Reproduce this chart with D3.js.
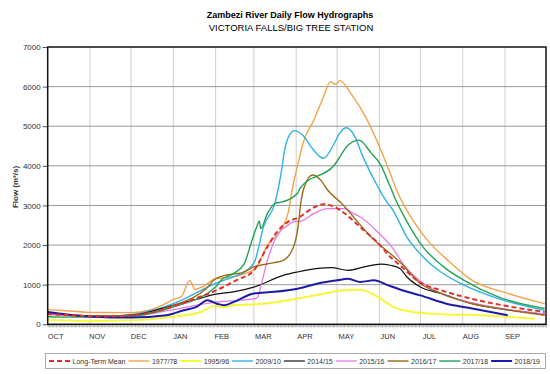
<!DOCTYPE html>
<html>
<head>
<meta charset="utf-8">
<script src="https://cdn.jsdelivr.net/npm/d3@7"></script>
<style>
  body { margin: 0; background: #fff; }
  svg { font-family: 'Liberation Sans', Arial, sans-serif; }
</style>
</head>
<body>
<svg id="chart" width="550" height="374"></svg>
<script>
// month labels along the hydrological year (Oct - Sep)
const months = ['OCT', 'NOV', 'DEC', 'JAN', 'FEB', 'MAR', 'APR', 'MAY', 'JUN', 'JUL', 'AUG', 'SEP'];
const yTicks = [0, 1000, 2000, 3000, 4000, 5000, 6000, 7000];

const meanFlow = [['Oct 1', 260], ['Oct 15', 235], ['Nov 1', 205], ['Nov 15', 200], ['Dec 1', 225], ['Dec 20', 330], ['Jan 1', 450], ['Jan 15', 620],
    ['Feb 1', 850], ['Feb 16', 1110], ['Mar 1', 1360], ['Mar 10', 1900], ['Mar 17', 2290], ['Mar 24', 2540], ['Apr 4', 2720], ['Apr 14', 2950],
    ['Apr 21', 3030], ['Apr 28', 2980], ['May 8', 2760], ['May 18', 2450], ['May 31', 2050], ['Jun 9', 1700], ['Jun 16', 1490], ['Jul 1', 1050],
    ['Jul 16', 860], ['Aug 8', 640], ['Sep 6', 440], ['Sep 30', 310]];

const flow1977 = [['Oct 1', 370], ['Oct 20', 330], ['Nov 1', 300], ['Dec 1', 295], ['Dec 15', 360], ['Dec 26', 520], ['Jan 1', 630], ['Jan 7', 700],
    ['Jan 13', 1110], ['Jan 17', 880], ['Jan 23', 960], ['Feb 1', 1150], ['Feb 14', 1200], ['Feb 24', 1300], ['Mar 2', 1400], ['Mar 11', 2000],
    ['Mar 22', 2450], ['Mar 26', 2800], ['Mar 29', 3390], ['Apr 2', 4000], ['Apr 6', 4570], ['Apr 14', 5160], ['Apr 21', 5740], ['Apr 26', 6120],
    ['Apr 30', 6060], ['May 3', 6150], ['May 11', 5830], ['May 23', 5160], ['Jun 2', 4400], ['Jun 9', 3800], ['Jun 14', 3350], ['Jun 26', 2600],
    ['Jul 8', 2050], ['Jul 21', 1620], ['Aug 8', 1110], ['Sep 3', 780], ['Sep 30', 520]];

const flow1995 = [['Oct 1', 110], ['Oct 15', 95], ['Nov 1', 80], ['Dec 1', 100], ['Dec 15', 130], ['Jan 1', 190], ['Jan 21', 310], ['Feb 1', 470],
    ['Feb 6', 430], ['Feb 14', 480], ['Mar 8', 520], ['Apr 2', 650], ['Apr 24', 790], ['May 6', 860], ['May 18', 870], ['May 26', 780],
    ['Jun 3', 620], ['Jun 11', 440], ['Jun 26', 310], ['Jul 20', 250], ['Aug 14', 230], ['Sep 23', 140]];

const flow2009 = [['Oct 1', 280], ['Oct 15', 240], ['Nov 1', 210], ['Nov 15', 205], ['Dec 1', 240], ['Dec 20', 380], ['Jan 1', 520], ['Feb 1', 1030],
    ['Feb 14', 1200], ['Feb 24', 1360], ['Mar 2', 1620], ['Mar 8', 2450], ['Mar 17', 3130], ['Mar 21', 3820], ['Mar 24', 4470], ['Mar 29', 4860],
    ['Mar 31', 4890], ['Apr 7', 4730], ['Apr 12', 4480], ['Apr 21', 4190], ['Apr 29', 4570], ['May 3', 4830], ['May 8', 4960], ['May 13', 4800],
    ['May 20', 4220], ['May 31', 3460], ['Jun 7', 3060], ['Jun 10', 2930], ['Jun 21', 2210], ['Jul 3', 1700], ['Jul 16', 1320], ['Aug 2', 990],
    ['Aug 27', 650], ['Sep 30', 350]];

const flow2014 = [['Oct 1', 270], ['Oct 15', 235], ['Nov 1', 200], ['Dec 1', 230], ['Jan 1', 480], ['Jan 20', 650], ['Feb 1', 760], ['Feb 14', 820],
    ['Mar 1', 940], ['Mar 23', 1240], ['Apr 2', 1320], ['Apr 17', 1410], ['Apr 27', 1430], ['May 9', 1360], ['May 21', 1450], ['Jun 2', 1520],
    ['Jun 9', 1490], ['Jun 16', 1410], ['Jun 21', 1200], ['Jul 1', 940], ['Jul 16', 780], ['Aug 8', 520], ['Sep 6', 350], ['Sep 30', 250]];

const flow2015 = [['Oct 1', 250], ['Oct 15', 215], ['Nov 1', 190], ['Dec 1', 210], ['Jan 1', 370], ['Feb 1', 560], ['Mar 1', 640], ['Mar 4', 700],
    ['Mar 6', 940], ['Mar 11', 1620], ['Mar 21', 2380], ['Mar 23', 2430], ['Mar 31', 2590], ['Apr 4', 2600], ['Apr 14', 2800], ['Apr 24', 2920],
    ['May 6', 2920], ['May 13', 2800], ['May 18', 2710], ['Jun 2', 2250], ['Jun 9', 2000], ['Jun 20', 1450], ['Jun 30', 1110], ['Jul 16', 780],
    ['Aug 8', 540], ['Sep 6', 360], ['Sep 30', 260]];

const flow2016 = [['Oct 1', 290], ['Oct 15', 250], ['Nov 1', 210], ['Dec 1', 220], ['Jan 1', 470], ['Jan 25', 900], ['Feb 1', 1150], ['Feb 10', 1250],
    ['Feb 20', 1300], ['Mar 1', 1450], ['Mar 15', 1550], ['Mar 23', 1620], ['Mar 31', 2050], ['Apr 3', 2630], ['Apr 4', 2960], ['Apr 7', 3470],
    ['Apr 13', 3770], ['Apr 19', 3640], ['Apr 24', 3390], ['May 4', 3060], ['May 26', 2200], ['Jun 16', 1570], ['Jul 1', 1030], ['Jul 16', 780],
    ['Aug 8', 520], ['Sep 6', 350], ['Sep 30', 230]];

const flow2017 = [['Oct 1', 190], ['Oct 15', 180], ['Nov 1', 180], ['Dec 1', 200], ['Jan 1', 440], ['Feb 1', 940], ['Feb 5', 1110], ['Feb 14', 1280],
    ['Feb 22', 1530], ['Feb 27', 2050], ['Mar 3', 2450], ['Mar 5', 2600], ['Mar 6', 2420], ['Mar 11', 2800], ['Mar 17', 3060], ['Mar 22', 3090],
    ['Apr 2', 3310], ['Apr 4', 3440], ['Apr 29', 4020], ['May 9', 4520], ['May 17', 4650], ['May 26', 4320], ['Jun 2', 4020], ['Jun 8', 3550],
    ['Jun 14', 3060], ['Jun 21', 2600], ['Jul 3', 1950], ['Jul 18', 1450], ['Aug 2', 1110], ['Aug 27', 690], ['Sep 30', 400]];

const flow2018 = [['Oct 1', 310], ['Oct 15', 250], ['Nov 1', 200], ['Dec 1', 170], ['Dec 27', 230], ['Jan 1', 270], ['Jan 8', 350], ['Jan 18', 440],
    ['Jan 26', 610], ['Feb 2', 520], ['Feb 7', 480], ['Feb 14', 560], ['Mar 1', 780], ['Mar 16', 820], ['Apr 2', 900], ['Apr 17', 1030],
    ['May 1', 1110], ['May 9', 1150], ['May 18', 1070], ['May 28', 1110], ['Jun 7', 990], ['Jun 16', 880], ['Jul 1', 730], ['Jul 20', 520],
    ['Aug 8', 400], ['Sep 3', 230]];

const seriesNames = ['1977/78', '1995/96', '2009/10', '2014/15', '2015/16', '2016/17', '2017/18', '2018/19'];
const seriesFlows = [flow1977, flow1995, flow2009, flow2014, flow2015, flow2016, flow2017, flow2018];
const seriesColors = ['#f4a349', '#f7f739', '#31b2e3', '#111111', '#e47ae4', '#9a6918', '#22a256', '#1b1ba8'];
const seriesWidths = [1.4, 2, 1.4, 1.2, 1.3, 1.4, 1.4, 2];

const svg = d3.select('#chart'),
    margin = {top: 47, right: 4, bottom: 50, left: 47.7},
    width = +svg.attr('width') - margin.left - margin.right,
    height = 324.3 - margin.top;

// oct-dec fall in the first calendar year, jan-sep in the next
const parseDay = (s) => {
    const d = d3.timeParse('%b %d %Y')(s + ' 2001');
    return d.getMonth() >= 9 ? d3.timeYear.offset(d, -1) : d;
};

const x = d3.scaleTime()
    .domain([new Date(2000, 9, 1), new Date(2001, 9, 1)])
    .range([margin.left, margin.left + width]);
const y = d3.scaleLinear().domain([0, 7000]).range([margin.top + height, margin.top]);
const monthBand = d3.scaleBand().domain(months).range([margin.left, margin.left + width]);

// title
svg.append('text')
    .attr('x', 290).attr('y', 17.5)
    .attr('text-anchor', 'middle')
    .style('font-size', '9px').style('font-weight', 'bold')
    .text('Zambezi River Daily Flow Hydrographs');
svg.append('text')
    .attr('x', 291).attr('y', 30.5)
    .attr('text-anchor', 'middle')
    .style('font-size', '9.5px')
    .text('VICTORIA FALLS/BIG TREE STATION');

// grid
svg.append('g')
    .selectAll('line')
    .data(d3.timeMonth.range(new Date(2000, 10, 1), new Date(2001, 9, 1)))
    .enter().append('line')
    .attr('x1', (d) => x(d)).attr('x2', (d) => x(d))
    .attr('y1', margin.top).attr('y2', margin.top + height)
    .attr('stroke', '#cfcfcf').attr('stroke-width', 1);

svg.append('g')
    .selectAll('line')
    .data(yTicks.slice(1, -1))
    .enter().append('line')
    .attr('x1', margin.left).attr('x2', margin.left + width)
    .attr('y1', (d) => y(d)).attr('y2', (d) => y(d))
    .attr('stroke', '#9a9a9a').attr('stroke-width', 1);

// y axis
const yAxis = svg.append('g')
    .attr('transform', 'translate(' + margin.left + ',0)')
    .call(d3.axisLeft(y).tickValues(yTicks).tickFormat(d3.format('d')).tickSize(5).tickPadding(2));
yAxis.select('.domain').remove();
yAxis.selectAll('text').style('font-size', '8px').attr('fill', '#333');
yAxis.selectAll('line').attr('stroke', '#555');

svg.append('text')
    .attr('transform', 'translate(17.5,187)rotate(-90)')
    .attr('text-anchor', 'middle')
    .style('font-size', '8px').style('font-weight', 'bold')
    .attr('fill', '#333')
    .text('Flow (m³/s)');

// daily ticks under the plot
const xAxis = svg.append('g')
    .attr('transform', 'translate(0,' + (margin.top + height) + ')')
    .call(d3.axisBottom(x).ticks(d3.timeDay.every(1)).tickSize(3).tickFormat(''));
xAxis.select('.domain').remove();
xAxis.selectAll('line').attr('stroke', '#777').attr('stroke-width', 0.6);

svg.append('g')
    .selectAll('text')
    .data(months)
    .enter().append('text')
    .attr('x', (d) => monthBand(d) + 8)
    .attr('y', 338.5)
    .attr('text-anchor', 'middle')
    .style('font-size', '7.5px')
    .attr('fill', '#333')
    .text((d) => d);

// hydrographs
const line = d3.line()
    .x((d) => x(parseDay(d[0])))
    .y((d) => y(d[1]))
    .curve(d3.curveMonotoneX);

const plot = svg.append('g');
seriesFlows.forEach((flow, i) => {
    plot.append('path')
        .datum(flow)
        .attr('fill', 'none')
        .attr('stroke', seriesColors[i])
        .attr('stroke-width', seriesWidths[i])
        .attr('stroke-linejoin', 'round')
        .attr('d', line);
});
plot.append('path')
    .datum(meanFlow)
    .attr('fill', 'none')
    .attr('stroke', '#e2302b')
    .attr('stroke-width', 2)
    .attr('stroke-dasharray', '5,3')
    .attr('d', line);

// frame
svg.append('rect')
    .attr('x', margin.left).attr('y', margin.top)
    .attr('width', width).attr('height', height)
    .attr('fill', 'none')
    .attr('stroke', '#111').attr('stroke-width', 1.5);

// legend
svg.append('rect')
    .attr('x', 45.5).attr('y', 353.5)
    .attr('width', 500).attr('height', 15)
    .attr('fill', '#fff')
    .attr('stroke', '#aaa').attr('stroke-width', 1);

const legendItems = [{name: 'Long-Term Mean', color: '#e2302b', width: 2, dash: '5,3'}]
    .concat(seriesNames.map((n, i) => ({name: n, color: seriesColors[i], width: seriesWidths[i], dash: null})));

let lx = 49;
legendItems.forEach((item) => {
    svg.append('line')
        .attr('x1', lx).attr('x2', lx + 21)
        .attr('y1', 361).attr('y2', 361)
        .attr('stroke', item.color)
        .attr('stroke-width', item.width)
        .attr('stroke-dasharray', item.dash);
    const t = svg.append('text')
        .attr('x', lx + 23.5).attr('y', 363.5)
        .style('font-size', '7px')
        .attr('fill', '#333')
        .text(item.name);
    lx += 23.5 + t.node().getComputedTextLength() + 3;
});
</script>
</body>
</html>
